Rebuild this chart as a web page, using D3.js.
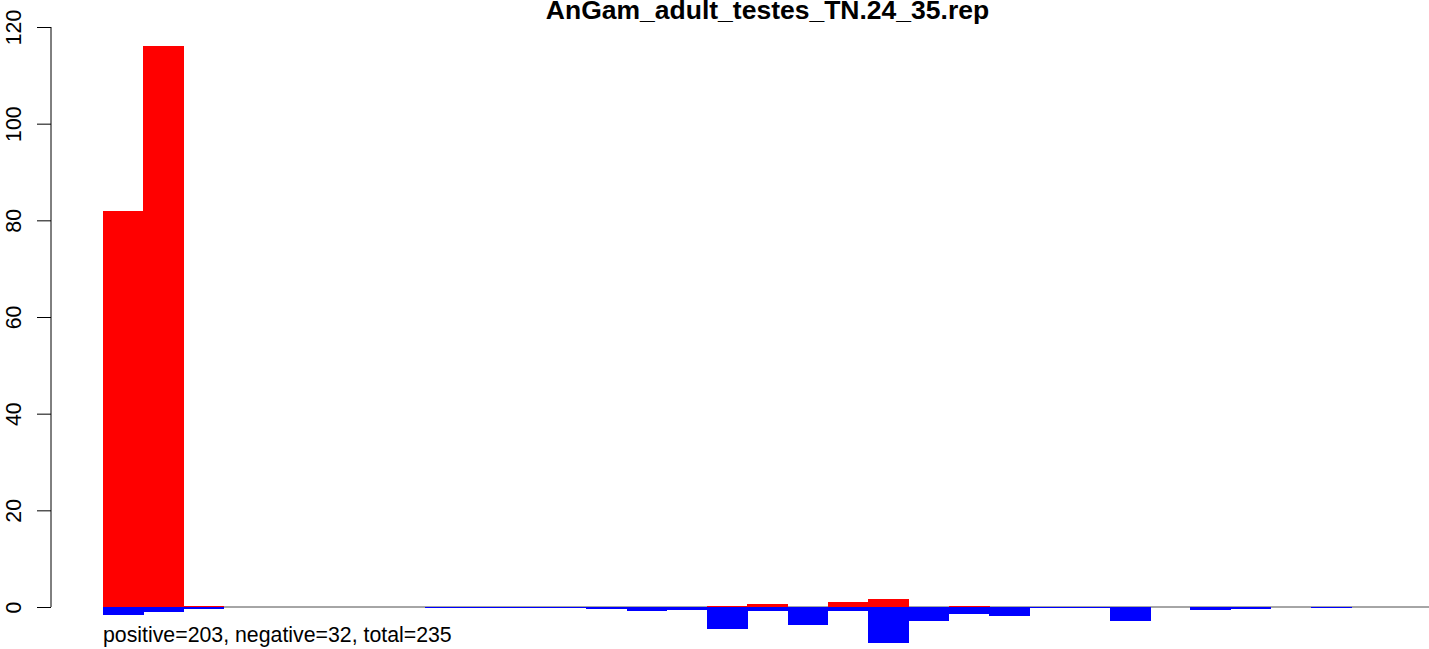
<!DOCTYPE html>
<html>
<head>
<meta charset="utf-8">
<script src="https://cdn.jsdelivr.net/npm/d3@7"></script>
<style>
  body { margin: 0; background: #fff; }
  svg { display: block; font-family: "Liberation Sans", Arial, sans-serif; }
</style>
</head>
<body>
<svg></svg>
<script>
// data (one bar per bin)
const title = "AnGam_adult_testes_TN.24_35.rep";
const positive = [82, 116, 0.3, 0, 0, 0, 0, 0, 0, 0, 0, 0, 0, 0, 0, 0.27, 0.62, 0,
    1.03, 1.65, 0, 0.27, 0, 0, 0, 0, 0, 0, 0, 0, 0, 0, 0];
const negative = [1.6, 1.0, 0.35, 0, 0, 0, 0, 0, 0.15, 0.15, 0.15, 0.15, 0.38, 0.75, 0.55, 4.48, 0.75, 3.65,
    0.75, 7.38, 2.83, 1.38, 1.8, 0.15, 0.15, 2.83, 0, 0.55, 0.35, 0, 0.15, 0, 0];
const yTicks = [0, 20, 40, 60, 80, 100, 120];
const footer = "positive=203, negative=32, total=235";

const width = 1429, height = 649;

const svg = d3.select("svg")
    .attr("width", width)
    .attr("height", height);

// x: bins side by side, no gaps
const x = d3.scaleLinear()
    .domain([0, positive.length])
    .range([103, 1432]);

const y = d3.scaleLinear()
    .domain([0, 120])
    .range([607, 27]);

// zero line
svg.append("line")
    .attr("x1", x(0))
    .attr("x2", x(positive.length))
    .attr("y1", y(0))
    .attr("y2", y(0))
    .attr("stroke", "#4d4d4d")
    .attr("stroke-width", 1);

// positive bars (red)
svg.append("g")
    .attr("shape-rendering", "crispEdges")
    .selectAll("rect")
    .data(positive)
    .enter().append("rect")
    .attr("x", (d, i) => x(i))
    .attr("width", x(1) - x(0) + 0.5)
    .attr("y", d => y(d))
    .attr("height", d => y(0) - y(d))
    .attr("fill", "#ff0000");

// negative bars (blue), drawn downward from zero
svg.append("g")
    .attr("shape-rendering", "crispEdges")
    .selectAll("rect")
    .data(negative)
    .enter().append("rect")
    .attr("x", (d, i) => x(i))
    .attr("width", x(1) - x(0) + 0.5)
    .attr("y", y(0))
    .attr("height", d => d > 0 ? Math.max(1, y(-d) - y(0)) : 0)
    .attr("fill", "#0000ff");

// y axis
const yAxis = svg.append("g")
    .attr("transform", "translate(51,0)")
    .call(d3.axisLeft(y).tickValues(yTicks).tickSize(14).tickPadding(0).tickFormat(d3.format("d")));

yAxis.select(".domain")
    .attr("d", `M0,${y(0)}V${y(120)}`)
    .attr("stroke", "#000");

yAxis.selectAll(".tick line").attr("stroke", "#000");

yAxis.selectAll(".tick text")
    .attr("x", 0)
    .attr("dy", 0)
    .attr("transform", "translate(-30,0) rotate(-90)")
    .attr("text-anchor", "middle")
    .style("font-size", "21.3px")
    .style("font-family", "'Liberation Sans', Arial, sans-serif")
    .attr("fill", "#000");

// title (the reference crops its top edge too)
svg.append("text")
    .attr("x", 767.5)
    .attr("y", 19)
    .attr("text-anchor", "middle")
    .style("font-size", "26.5px")
    .style("font-weight", "bold")
    .text(title);

// footer summary
svg.append("text")
    .attr("x", 103)
    .attr("y", 642)
    .attr("text-anchor", "start")
    .style("font-size", "21.3px")
    .text(footer);
</script>
</body>
</html>
